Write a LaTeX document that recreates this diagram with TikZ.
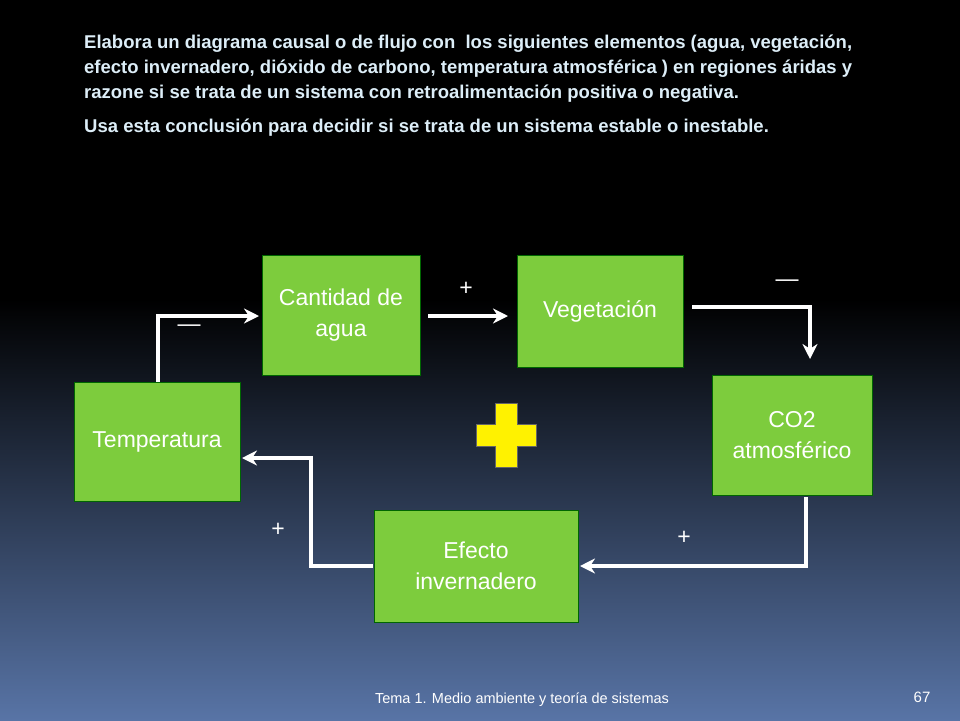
\documentclass[tikz,border=0pt]{standalone}
\usepackage{fontspec}
\setmainfont{Liberation Sans}
\begin{document}
\begin{tikzpicture}[x=1pt,y=-1pt,
 box/.style={draw=green!40!black,fill=boxg,line width=1pt,text=white,font=\fontsize{23}{31}\selectfont,align=center,inner sep=0pt},
 conn/.style={draw=white,line width=4pt,-{Stealth[length=15pt,width=15pt]}},
 sign/.style={text=white,font=\fontsize{23}{24}\selectfont}]
\usetikzlibrary{arrows.meta}
\definecolor{boxg}{HTML}{7DCC3D}
\definecolor{ttl}{HTML}{DDEEF8}
\fill[black] (0,0) rectangle (960,300);
\shade[top color=black,bottom color={rgb,255:red,88;green,116;blue,166}] (0,299) rectangle (960,720);
\useasboundingbox (0,0) rectangle (960,720);
\node[text=ttl,font=\bfseries\fontsize{18.5}{25}\selectfont,align=left,anchor=north west,inner sep=0pt] (t) at (84,35) {Elabora un diagrama causal o de flujo con\ \ los siguientes elementos (agua, vegetación,\\efecto invernadero, dióxido de carbono, temperatura atmosférica ) en regiones áridas y\\razone si se trata de un sistema con retroalimentación positiva o negativa.};
\node[anchor=west,text=ttl,font=\bfseries\fontsize{18.5}{25}\selectfont,inner sep=0pt] (t2) at (84,128) {Usa esta conclusión para decidir si se trata de un sistema estable o inestable.};
\node[box,minimum width=158,minimum height=120] (agua) at (341,315) {Cantidad de\\agua};
\node[box,minimum width=166,minimum height=112] (veg) at (600,311) {Vegetación};
\node[box,minimum width=160,minimum height=120] (co2) at (792,435) {CO2\\atmosférico};
\node[box,minimum width=204,minimum height=112] (ef) at (476,566) {Efecto\\invernadero};
\node[box,minimum width=166,minimum height=119] (temp) at (157,442) {Temperatura};
\draw[conn] (428,316) -- (508,316);
\draw[conn] (692,307) -- (810,307) -- (810,359);
\draw[conn] (806,497) -- (806,566) -- (580,566);
\draw[conn] (373,566) -- (311,566) -- (311,458) -- (242,458);
\draw[conn] (158,382) -- (158,316) -- (259,316);
\node[sign] (s1) at (466,289) {+};
\node[sign] (s2) at (787,283) {—};
\node[sign] (s3) at (684,538) {+};
\node[sign] (s4) at (278,530) {+};
\node[sign] (s5) at (189,328) {—};
\fill[yellow,draw=black!60,line width=0.8pt] (495,403) -- (517,403) -- (517,424) -- (536,424) -- (536,446) -- (517,446) -- (517,467) -- (495,467) -- (495,446) -- (476,446) -- (476,424) -- (495,424) -- cycle;
\node[text=white,font=\fontsize{14.5}{16}\selectfont] (f) at (522,700) {Tema 1. Medio ambiente y teoría de sistemas};
\node[text=white,font=\fontsize{15}{16}\selectfont] (n) at (922,697) {67};
\end{tikzpicture}
\end{document}
